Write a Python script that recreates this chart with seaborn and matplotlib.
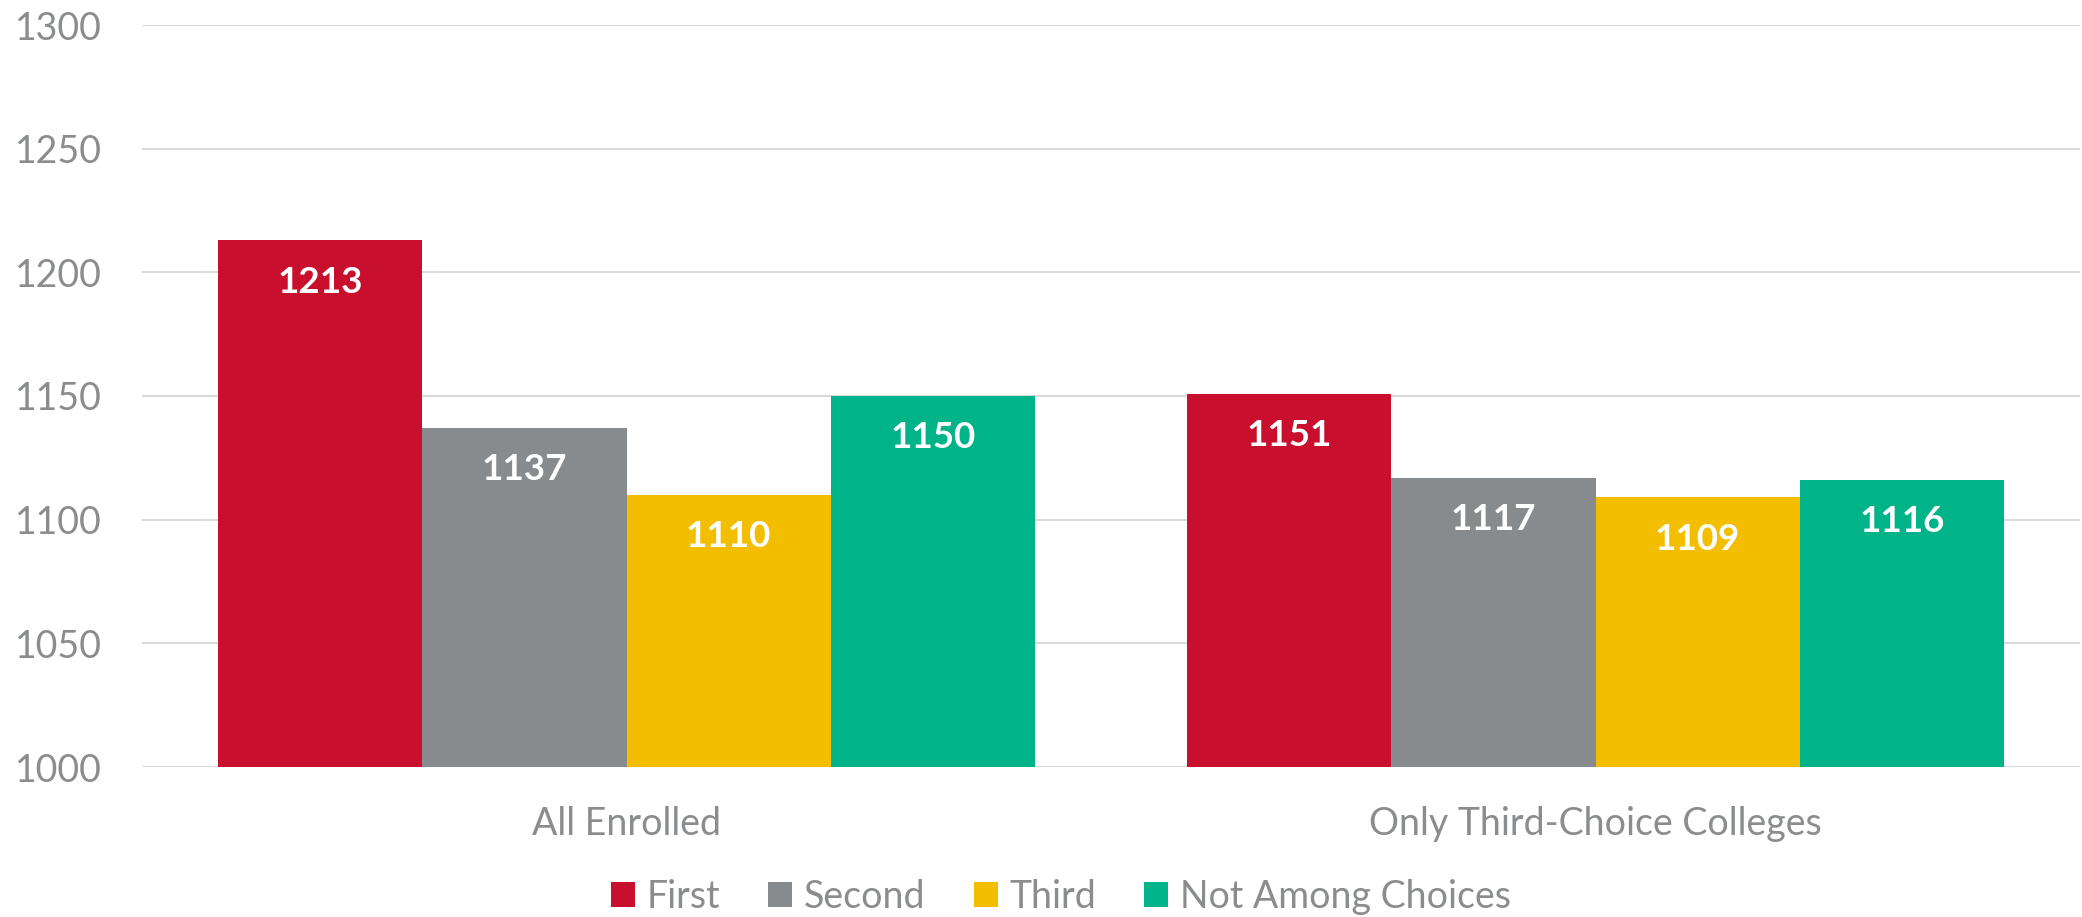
import matplotlib
matplotlib.use("Agg")
import matplotlib.pyplot as plt
import seaborn as sns
import pandas as pd
from matplotlib.patches import Patch

categories = ["All Enrolled", "Only Third-Choice Colleges"]
series = ["First", "Second", "Third", "Not Among Choices"]
first = [1213, 1151]
second = [1137, 1117]
third = [1110, 1109]
not_among = [1150, 1116]
yticks = [1000, 1050, 1100, 1150, 1200, 1250, 1300]

colors = ["#C8102E", "#888B8D", "#F3BD00", "#00B388"]
text_grey = "#8A8C8E"

rows = []
for s, vals in zip(series, [first, second, third, not_among]):
    for c, v in zip(categories, vals):
        rows.append({"category": c, "series": s, "value": v})
df = pd.DataFrame(rows)

sns.set_theme(style="white")
plt.rcParams["font.family"] = ["Lato", "DejaVu Sans"]

fig = plt.figure(figsize=(20.82, 9.17), dpi=100)
ax = fig.add_axes([142 / 2082, 1 - 767 / 917, (2080 - 142) / 2082, (767 - 25) / 917])

sns.barplot(data=df, x="category", y="value", hue="series", order=categories,
            hue_order=series, palette=colors, width=0.843, gap=0, ax=ax,
            saturation=1, legend=False, errorbar=None, edgecolor="none", linewidth=0)

ax.set_ylim(1000, 1300)
ax.set_yticks(yticks)
ax.set_yticklabels([str(t) for t in yticks])
ax.yaxis.grid(True, color="#D9D9D9", linewidth=1.5)
ax.set_axisbelow(True)
for sp in ax.spines.values():
    sp.set_visible(False)
ax.set_xlabel("")
ax.set_ylabel("")
ax.tick_params(axis="both", length=0, labelsize=27, labelcolor=text_grey)
ax.tick_params(axis="x", pad=28)
for lbl in ax.get_yticklabels():
    lbl.set_horizontalalignment("left")
    lbl.set_x(-142 / 1938 + 15 / 1938)
ax.tick_params(axis="y", pad=0)

for cont in ax.containers:
    ax.bar_label(cont, labels=[f"{int(v)}" for v in cont.datavalues],
                 padding=-42, color="white", fontsize=26.5, fontweight="bold")

handles = [Patch(facecolor=c, edgecolor="none") for c in colors]
fig.legend(handles, series, loc="center", bbox_to_anchor=(1061 / 2082, 1 - 897 / 917),
           ncol=4, frameon=False, fontsize=27, labelcolor=text_grey,
           handlelength=0.64, handleheight=0.64, handletextpad=0.32, columnspacing=1.28)

fig.savefig("out.png", dpi=100)
